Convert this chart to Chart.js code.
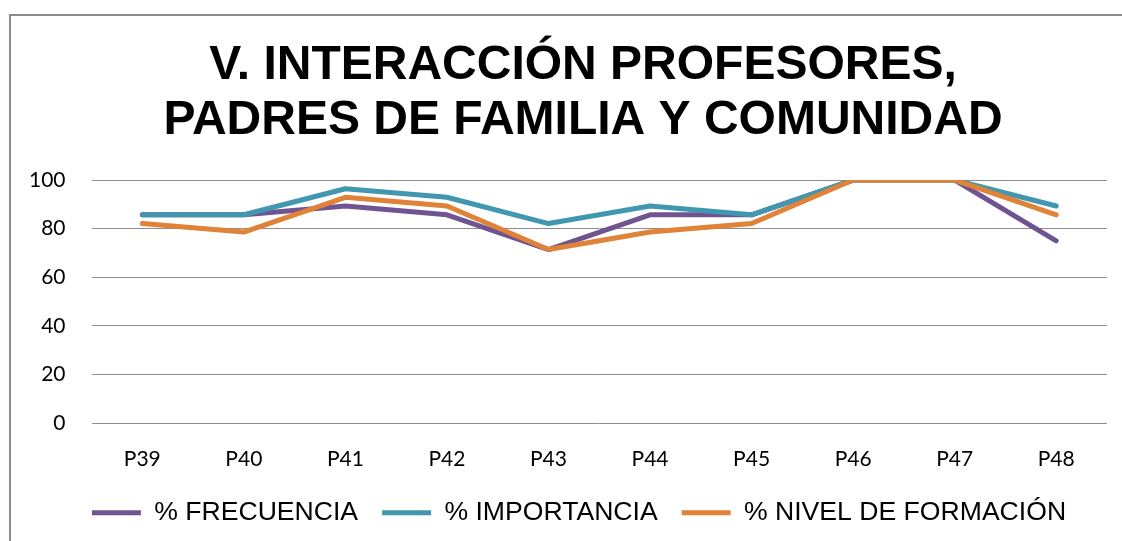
<!DOCTYPE html>
<html><head><meta charset="utf-8">
<script src="https://cdn.jsdelivr.net/npm/chart.js@4.4.1/dist/chart.umd.min.js"></script>
<style>
html,body{margin:0;padding:0;background:#fff;overflow:hidden;width:1122px;height:541px;}
#wrap{position:absolute;left:0;top:0;width:1166px;height:541px;}
#frame{position:absolute;left:9px;top:14px;width:1300px;height:700px;border-left:2px solid #8c8c8c;border-top:2px solid #8c8c8c;pointer-events:none;}
</style></head>
<body>
<div id="wrap"><canvas id="c" width="1166" height="541"></canvas></div>
<div id="frame"></div>
<script>
const titleLines = ['V. INTERACCIÓN PROFESORES,', 'PADRES DE FAMILIA Y COMUNIDAD'];
const categories = ['P39','P40','P41','P42','P43','P44','P45','P46','P47','P48'];
const seriesNames = ['% FRECUENCIA', '% IMPORTANCIA', '% NIVEL DE FORMACIÓN'];
const frecuencia = [85.7, 85.7, 89.3, 85.7, 71.4, 85.7, 85.7, 100, 100, 75.0];
const importancia = [85.7, 85.7, 96.4, 92.9, 82.1, 89.3, 85.7, 100, 100, 89.3];
const nivelFormacion = [82.1, 78.6, 92.9, 89.3, 71.4, 78.6, 82.1, 100, 100, 85.7];
const yTicks = [0, 20, 40, 60, 80, 100];
const colors = ['#705492', '#4097AF', '#E08237'];

const seriesValues = [frecuencia, importancia, nivelFormacion];
const drawOrder = [2, 1, 0];
const datasets = seriesValues.map((vals, i) => ({
  label: seriesNames[i],
  data: vals,
  borderColor: colors[i],
  backgroundColor: colors[i],
  borderWidth: 5,
  borderCapStyle: 'round',
  borderJoinStyle: 'round',
  pointRadius: 0,
  pointHoverRadius: 0,
  tension: 0,
  fill: false,
  order: drawOrder[i],
  pointStyle: 'line'
}));

// horizontal nudges of the title and legend blocks (page centre of reference)
const boxShift = {
  id: 'boxShift',
  afterLayout(chart) {
    if (chart.titleBlock) { chart.titleBlock.left += 28; chart.titleBlock.right += 28; }
    if (chart.legend) { chart.legend.left += 24; chart.legend.right += 24; }
  }
};

new Chart(document.getElementById('c'), {
  type: 'line',
  data: { labels: categories, datasets },
  plugins: [boxShift],
  options: {
    responsive: false,
    animation: false,
    events: [],
    layout: { padding: { left: 3, right: 59, top: 0, bottom: 5 } },
    plugins: {
      title: {
        display: true,
        text: titleLines,
        color: '#000',
        font: { family: '"Liberation Sans", Arial, sans-serif', size: 48, weight: 'bold', lineHeight: 1.146 },
        padding: { top: 38, bottom: 32 }
      },
      legend: {
        display: true,
        position: 'bottom',
        labels: {
          usePointStyle: true,
          pointStyleWidth: 49,
          padding: 24,
          color: '#000',
          font: { family: '"Liberation Sans", Arial, sans-serif', size: 26.6 },
          sort: (a, b) => a.datasetIndex - b.datasetIndex
        }
      },
      tooltip: { enabled: false }
    },
    scales: {
      x: {
        offset: true,
        afterFit: (axis) => { axis.height = Math.max(0, axis.height - 19); },
        grid: { display: false, drawTicks: false },
        border: { display: false },
        ticks: { color: '#000', padding: 23, font: { family: 'Lato, "Open Sans", sans-serif', size: 21 } }
      },
      y: {
        min: 0, max: 100,
        afterBuildTicks: (axis) => { axis.ticks = yTicks.map(v => ({ value: v })); },
        grid: { color: '#8c8c8c', lineWidth: 1, drawTicks: false },
        border: { display: false },
        ticks: { color: '#000', padding: 26, font: { family: 'Lato, "Open Sans", sans-serif', size: 21 } }
      }
    }
  }
});
</script>
</body></html>
